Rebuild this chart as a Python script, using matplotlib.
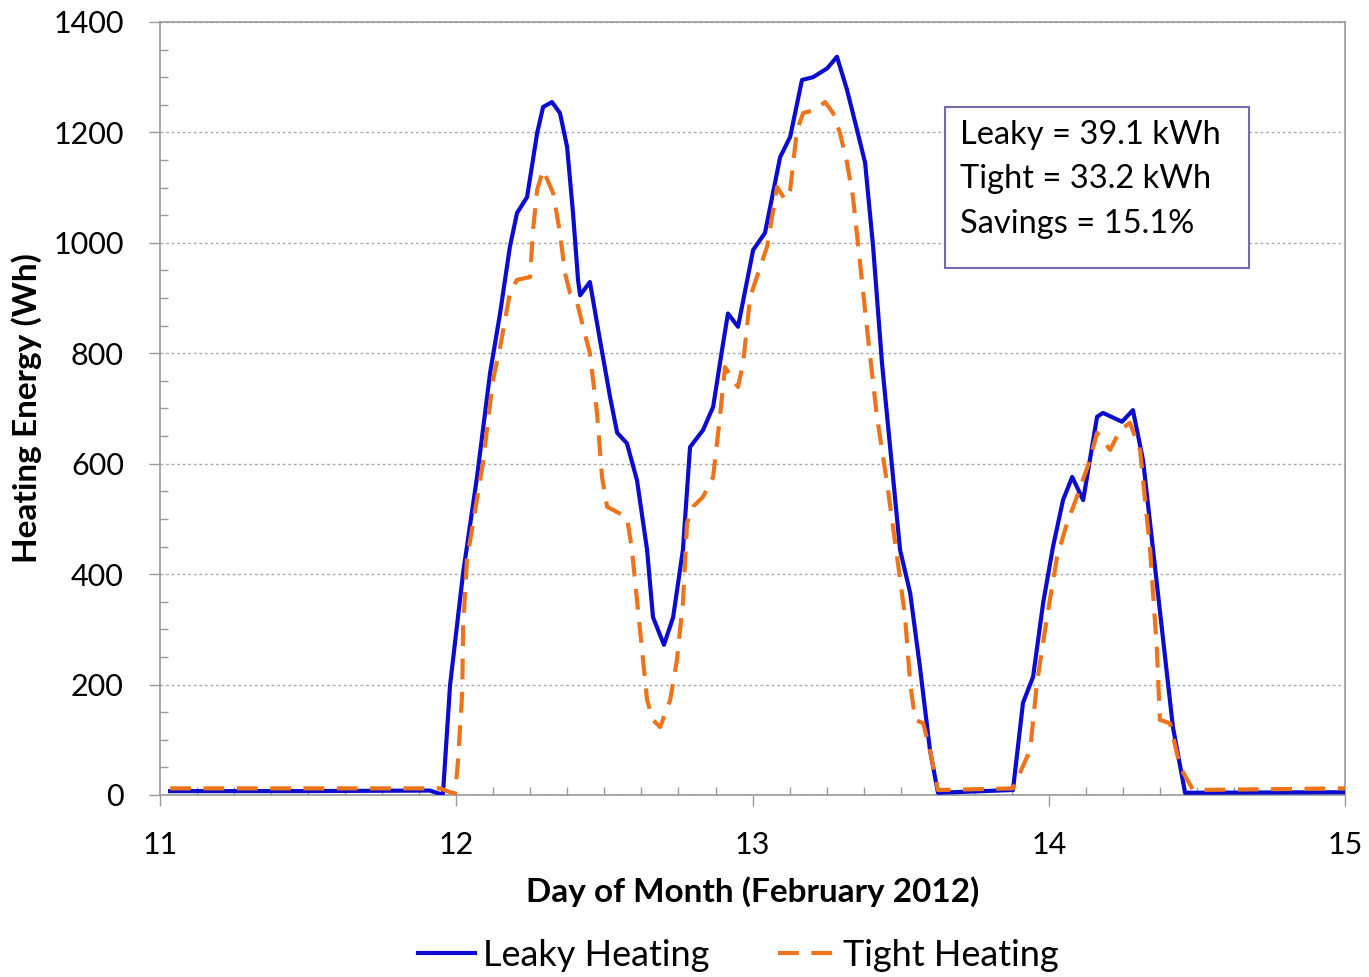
import matplotlib.pyplot as plt
from matplotlib.ticker import MultipleLocator
from matplotlib.patches import Rectangle

# heating energy (Wh) vs day of month
leaky_day = [11.034, 11.473, 11.911, 11.945, 11.955, 11.979, 12.023, 12.070, 12.114, 12.148,
             12.181, 12.205, 12.239, 12.273, 12.293, 12.323, 12.350, 12.374, 12.394, 12.411,
             12.418, 12.451, 12.485, 12.519, 12.543, 12.576, 12.610, 12.644, 12.664, 12.701,
             12.732, 12.765, 12.789, 12.833, 12.867, 12.897, 12.917, 12.951, 13.002, 13.042,
             13.093, 13.127, 13.167, 13.204, 13.252, 13.285, 13.319, 13.353, 13.380, 13.407,
             13.437, 13.498, 13.532, 13.565, 13.599, 13.626, 13.879, 13.913, 13.947, 13.981,
             14.014, 14.048, 14.079, 14.116, 14.163, 14.183, 14.247, 14.284, 14.318, 14.352,
             14.386, 14.419, 14.460, 15.0]
leaky_wh = [7, 7, 8, 2, 2, 199, 402, 576, 764, 873,
            993, 1054, 1083, 1199, 1246, 1255, 1235, 1174, 1054, 933,
            905, 929, 824, 721, 656, 637, 570, 444, 322, 272,
            322, 444, 630, 661, 703, 806, 872, 848, 987, 1018,
            1155, 1192, 1295, 1300, 1316, 1337, 1277, 1204, 1145, 993,
            782, 444, 366, 232, 81, 4, 9, 167, 214, 348,
            449, 534, 576, 534, 685, 692, 676, 697, 607, 444,
            281, 123, 4, 5]

tight_day = [11.034, 11.945, 11.979, 11.996, 12.006, 12.020, 12.023, 12.036, 12.090, 12.124,
             12.148, 12.181, 12.205, 12.249, 12.259, 12.273, 12.293, 12.327, 12.350, 12.367,
             12.384, 12.408, 12.428, 12.451, 12.475, 12.492, 12.509, 12.576, 12.593, 12.610,
             12.627, 12.644, 12.664, 12.688, 12.722, 12.745, 12.765, 12.779, 12.799, 12.833,
             12.867, 12.890, 12.907, 12.934, 12.951, 12.968, 12.992, 13.049, 13.083, 13.110,
             13.127, 13.150, 13.171, 13.211, 13.245, 13.272, 13.295, 13.319, 13.339, 13.363,
             13.387, 13.420, 13.454, 13.488, 13.515, 13.532, 13.549, 13.576, 13.599, 13.626,
             13.879, 13.937, 13.960, 13.994, 14.028, 14.062, 14.095, 14.139, 14.163, 14.207,
             14.241, 14.274, 14.308, 14.342, 14.365, 14.375, 14.409, 14.443, 14.487, 15.0]
tight_wh = [12, 12, 5, 3, 63, 185, 304, 426, 601, 752,
            811, 909, 933, 938, 1023, 1096, 1132, 1090, 1018, 945,
            909, 891, 848, 800, 692, 576, 522, 503, 444, 353,
            263, 172, 136, 123, 172, 245, 348, 493, 522, 540,
            576, 685, 775, 752, 739, 782, 902, 993, 1101, 1078,
            1096, 1204, 1235, 1241, 1255, 1235, 1199, 1145, 1083, 963,
            842, 685, 565, 431, 322, 203, 136, 130, 81, 9,
            12, 81, 203, 322, 431, 493, 540, 607, 656, 625,
            661, 674, 625, 444, 263, 136, 130, 51, 9, 12]

summary = ['Leaky = 39.1 kWh', 'Tight = 33.2 kWh', 'Savings = 15.1%']

plt.rcParams['font.family'] = ['Lato', 'DejaVu Sans']

fig = plt.figure(figsize=(13.69, 9.77), dpi=100)
ax = fig.add_axes([0.1169, 0.1863, 0.8656, 0.7912])

ax.plot(leaky_day, leaky_wh, color='#0c0cd0', lw=3, solid_joinstyle='round',
        label='Leaky Heating', zorder=3)
ax.plot(tight_day, tight_wh, color='#ee741c', lw=3, linestyle=(0, (5, 3)),
        dash_capstyle='butt', dash_joinstyle='round', label='Tight Heating', zorder=4)

ax.set_xlim(11, 15)
ax.set_ylim(0, 1400)
ax.xaxis.set_major_locator(MultipleLocator(1))
ax.xaxis.set_minor_locator(MultipleLocator(0.125))
ax.yaxis.set_major_locator(MultipleLocator(200))
ax.yaxis.set_minor_locator(MultipleLocator(50))
ax.tick_params(which='major', direction='out', length=8, width=1, color='#999999',
               labelsize=22, pad=18)
ax.tick_params(which='minor', direction='in', length=6, width=1, color='#999999')
ax.grid(axis='y', which='major', linestyle=(0, (2, 2)), color='#aaaaaa', lw=1)
ax.set_axisbelow(True)
for s in ax.spines.values():
    s.set_color('#999999')
    s.set_linewidth(1.2)

ax.set_xlabel('Day of Month (February 2012)', fontsize=24, fontweight='bold', labelpad=12)
ax.set_ylabel('Heating Energy (Wh)', fontsize=24, fontweight='bold', labelpad=8)

# summary box
ax.add_patch(Rectangle((13.65, 955), 1.025, 291, transform=ax.transData, fill=True,
                       facecolor='white', edgecolor='#7a68a8', lw=1.5, zorder=5))
for i, line in enumerate(summary):
    ax.text(13.70, 1195 - i * 80, line, fontsize=23.5, va='center', ha='left', zorder=6)

fig.legend(loc='center', bbox_to_anchor=(0.539, 0.022), ncol=2, frameon=False,
           fontsize=26, handlelength=1.6, handletextpad=0.2, columnspacing=1.9)

fig.savefig('out.png', dpi=100)
